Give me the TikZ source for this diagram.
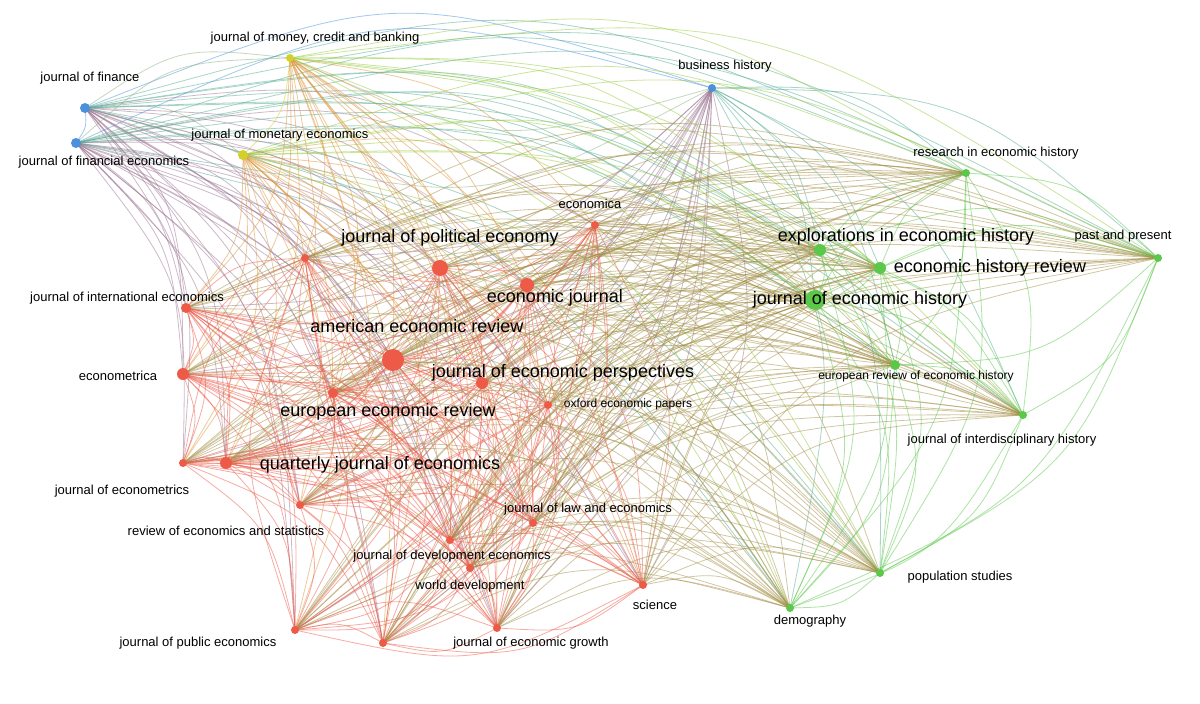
\documentclass[tikz,border=0pt]{standalone}
\usepackage{fontspec}
\setmainfont{Liberation Sans}
\definecolor{vr}{HTML}{EE5A48}
\definecolor{vg}{HTML}{5CC84A}
\definecolor{vb}{HTML}{4A90DC}
\definecolor{vy}{HTML}{D2D02A}
\begin{document}
\def\nodelist{
85/108/vb/5/90/78/13/{journal of finance},
76/143/vb/5/104/162/13/{journal of financial economics},
712/88/vb/4/725/66/13/{business history},
290/58/vy/4/315/38/13/{journal of money, credit and banking},
243/155/vy/5/280/135/13/{journal of monetary economics},
595/225/vr/4/590/204/13/{economica},
440/268/vr/8/450/238/18/{journal of political economy},
527/285/vr/7/555/298/18/{economic journal},
393/360/vr/11/417/326/18/{american economic review},
482/383/vr/6/563/373/18/{journal of economic perspectives},
333/393/vr/5/388/412/18/{european economic review},
548/405/vr/4/628/404/12/{oxford economic papers},
186/308/vr/5/127/298/13/{journal of international economics},
183/374/vr/6/118/376/13/{econometrica},
183/463/vr/4/122/491/13/{journal of econometrics},
226/463/vr/6/380/465/18/{quarterly journal of economics},
300/505/vr/4/226/531/13/{review of economics and statistics},
533/523/vr/4/588/509/13/{journal of law and economics},
450/540/vr/4/452/556/13/{journal of development economics},
470/568/vr/4/470/586/13/{world development},
643/585/vr/4/655/605/13/{science},
295/630/vr/4/198/643/13/{journal of public economics},
497/628/vr/4/531/643/13/{journal of economic growth},
305/258/vr/4/305/258/1/{},
383/643/vr/4/383/643/1/{},
820/250/vg/6/906/237/18/{explorations in economic history},
880/268/vg/6/990/268/18/{economic history review},
815/300/vg/10/860/300/18/{journal of economic history},
966/173/vg/4/996/153/13/{research in economic history},
1158/258/vg/4/1123/236/13/{past and present},
895/365/vg/5/916/376/12/{european review of economic history},
1023/415/vg/4/1002/440/13/{journal of interdisciplinary history},
880/573/vg/4/960/577/13/{population studies},
790/608/vg/4/810/621/13/{demography}}
\def\N{34}
\begin{tikzpicture}[x=1pt,y=-1pt,
  edge/.style={line width=0.8pt,opacity=0.5},
  lab/.style={text=black,inner sep=0pt}]
\useasboundingbox[fill=white] (0,0) rectangle (1200,704);
\foreach \x/\y/\c/\r/\lx/\ly/\fs/\t [count=\i] in \nodelist {
  \coordinate (n\i) at (\x,\y);
  \expandafter\xdef\csname PX\i\endcsname{\x}
  \expandafter\xdef\csname PY\i\endcsname{\y}
  \xglobal\colorlet{c\i}{\c}
}
\foreach \i in {1,...,\N}{
  \foreach \j in {1,...,\N}{
    \ifnum\j>\i
      \pgfmathsetmacro\cx{(\csname PX\i\endcsname+\csname PX\j\endcsname)/2+0.18*(\csname PY\j\endcsname-\csname PY\i\endcsname)}
      \pgfmathsetmacro\cy{(\csname PY\i\endcsname+\csname PY\j\endcsname)/2-0.18*(\csname PX\j\endcsname-\csname PX\i\endcsname)}
      \draw[edge,draw=c\i!50!c\j] (n\i) .. controls (\cx,\cy) .. (n\j);
    \fi
  }
}
\foreach \x/\y/\c/\r/\lx/\ly/\fs/\t [count=\i] in \nodelist {
  \fill[\c] (n\i) circle[radius=\r pt];
}
\foreach \x/\y/\c/\r/\lx/\ly/\fs/\t [count=\i] in \nodelist {
  \node[lab,font=\fontsize{\fs}{\fs}\selectfont] (l\i) at (\lx,\ly) {\t};
}
\end{tikzpicture}
\end{document}
